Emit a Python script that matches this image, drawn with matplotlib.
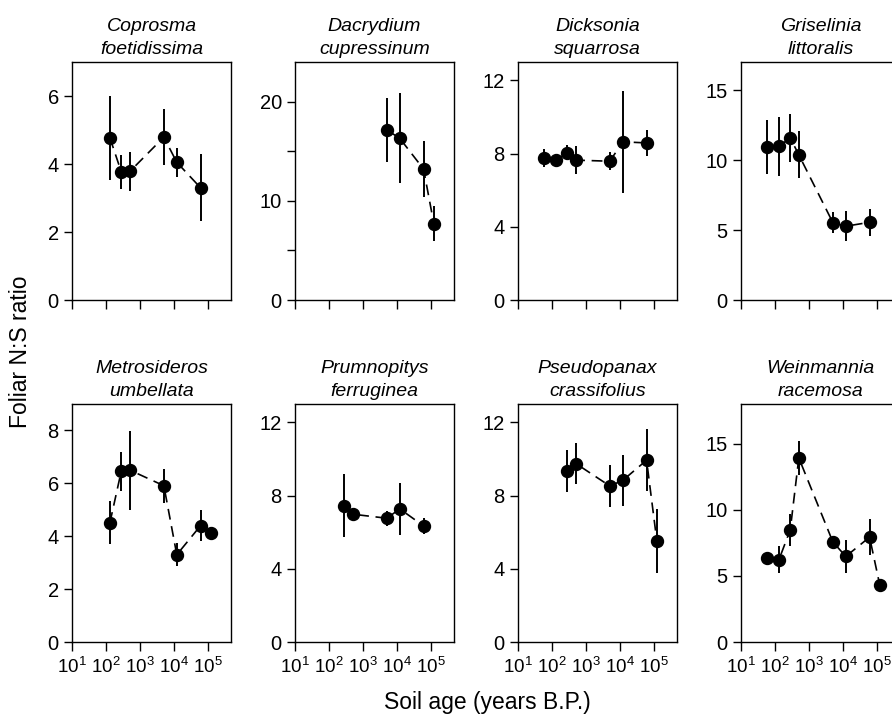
import numpy as np
import matplotlib
matplotlib.use("Agg")
import matplotlib.pyplot as plt
from matplotlib.ticker import FixedLocator, NullLocator

plt.rcParams['font.family'] = ['Liberation Sans', 'DejaVu Sans']
plt.rcParams['mathtext.fontset'] = 'custom'
plt.rcParams['mathtext.rm'] = 'Liberation Sans'
plt.rcParams['mathtext.it'] = 'Liberation Sans:italic'

# soil ages of the chronosequence sites (years B.P.)
ages_60 = [60, 130, 280, 500, 5000, 12000, 60000, 120000]

species = ["Coprosma\nfoetidissima", "Dacrydium\ncupressinum",
           "Dicksonia\nsquarrosa", "Griselinia\nlittoralis",
           "Metrosideros\numbellata", "Prumnopitys\nferruginea",
           "Pseudopanax\ncrassifolius", "Weinmannia\nracemosa"]

cop_age = [130, 280, 500, 5000, 12000, 60000]
cop_ns = [4.77, 3.77, 3.78, 4.79, 4.05, 3.30]
cop_err = [1.23, 0.50, 0.56, 0.82, 0.42, 0.98]

dac_age = [5000, 12000, 60000, 120000]
dac_ns = [17.15, 16.3, 13.2, 7.7]
dac_err = [3.2, 4.55, 2.8, 1.8]

dic_age = [60, 130, 280, 500, 5000, 12000, 60000]
dic_ns = [7.76, 7.62, 8.04, 7.64, 7.58, 8.64, 8.58]
dic_err = [0.47, 0.2, 0.4, 0.78, 0.5, 2.8, 0.72]

gri_age = [60, 130, 280, 500, 5000, 12000, 60000]
gri_ns = [10.92, 10.97, 11.58, 10.37, 5.53, 5.27, 5.55]
gri_err = [1.92, 2.1, 1.72, 1.68, 0.74, 1.07, 0.95]

met_age = [130, 280, 500, 5000, 12000, 60000, 120000]
met_ns = [4.51, 6.46, 6.50, 5.91, 3.30, 4.40, 4.11]
met_err = [0.82, 0.74, 1.49, 0.65, 0.44, 0.58, 0.1]

pru_age = [280, 500, 5000, 12000, 60000]
pru_ns = [7.45, 6.98, 6.76, 7.27, 6.34]
pru_err = [1.7, 0.3, 0.4, 1.44, 0.45]

pse_age = [280, 500, 5000, 12000, 60000, 120000]
pse_ns = [9.35, 9.75, 8.52, 8.83, 9.93, 5.53]
pse_err = [1.15, 1.13, 1.15, 1.4, 1.7, 1.75]

wei_age = ages_60
wei_ns = [6.32, 6.22, 8.48, 13.92, 7.57, 6.47, 7.93, 4.29]
wei_err = [0.2, 1.03, 1.2, 1.3, 0.2, 1.28, 1.34, 0.2]

ages = [cop_age, dac_age, dic_age, gri_age, met_age, pru_age, pse_age, wei_age]
ns = [cop_ns, dac_ns, dic_ns, gri_ns, met_ns, pru_ns, pse_ns, wei_ns]
errs = [cop_err, dac_err, dic_err, gri_err, met_err, pru_err, pse_err, wei_err]

ymax = [7, 24, 13, 17, 9, 13, 13, 18]
yticks = [[0, 2, 4, 6], [0, 5, 10, 15, 20], [0, 4, 8, 12], [0, 5, 10, 15],
          [0, 2, 4, 6, 8], [0, 4, 8, 12], [0, 4, 8, 12], [0, 5, 10, 15]]
ylabels = [["0", "2", "4", "6"], ["0", "", "10", "", "20"],
           ["0", "4", "8", "12"], ["0", "5", "10", "15"],
           ["0", "2", "4", "6", "8"], ["0", "4", "8", "12"],
           ["0", "4", "8", "12"], ["0", "5", "10", "15"]]
xticks = [1e1, 1e2, 1e3, 1e4, 1e5]
xlabels = [r"$10^{1}$", r"$10^{2}$", r"$10^{3}$", r"$10^{4}$", r"$10^{5}$"]

W, H = 892, 718
fig = plt.figure(figsize=(W / 100, H / 100), dpi=100)

lefts = [72, 295, 518, 741]
tops = [62, 404]
pw, ph = 159, 238

for i in range(8):
    r, c = divmod(i, 4)
    ax = fig.add_axes([lefts[c] / W, (H - tops[r] - ph) / H, pw / W, ph / H])
    ax.errorbar(ages[i], ns[i], yerr=errs[i], fmt='o', color='black',
                ms=8.6, elinewidth=1.4, capsize=0, zorder=3)
    ax.plot(ages[i], ns[i], color='black', lw=1.2, dashes=(6.5, 4), zorder=2)
    ax.set_xscale('log')
    ax.set_xlim(10, 4.7e5)
    ax.set_ylim(0, ymax[i])
    ax.xaxis.set_major_locator(FixedLocator(xticks))
    ax.xaxis.set_minor_locator(NullLocator())
    if r == 1:
        ax.set_xticklabels(xlabels)
    else:
        ax.set_xticklabels([])
    ax.set_yticks(yticks[i])
    ax.set_yticklabels(ylabels[i])
    ax.tick_params(axis='x', direction='out', length=6.5, width=1, labelsize=13.5, pad=4)
    ax.tick_params(axis='y', direction='out', length=5.5, width=1, labelsize=14.5, pad=4)
    for s in ax.spines.values():
        s.set_linewidth(1)
    ax.set_title(species[i], fontsize=14, style='italic', pad=6, linespacing=1.45)

fig.text(21 / W, 1 - 352 / H, "Foliar N:S ratio", rotation=90,
         ha='center', va='center', fontsize=16.5)
fig.text(487 / W, 1 - 703 / H, "Soil age (years B.P.)",
         ha='center', va='center', fontsize=16.5)

fig.savefig("out.png", dpi=100)
